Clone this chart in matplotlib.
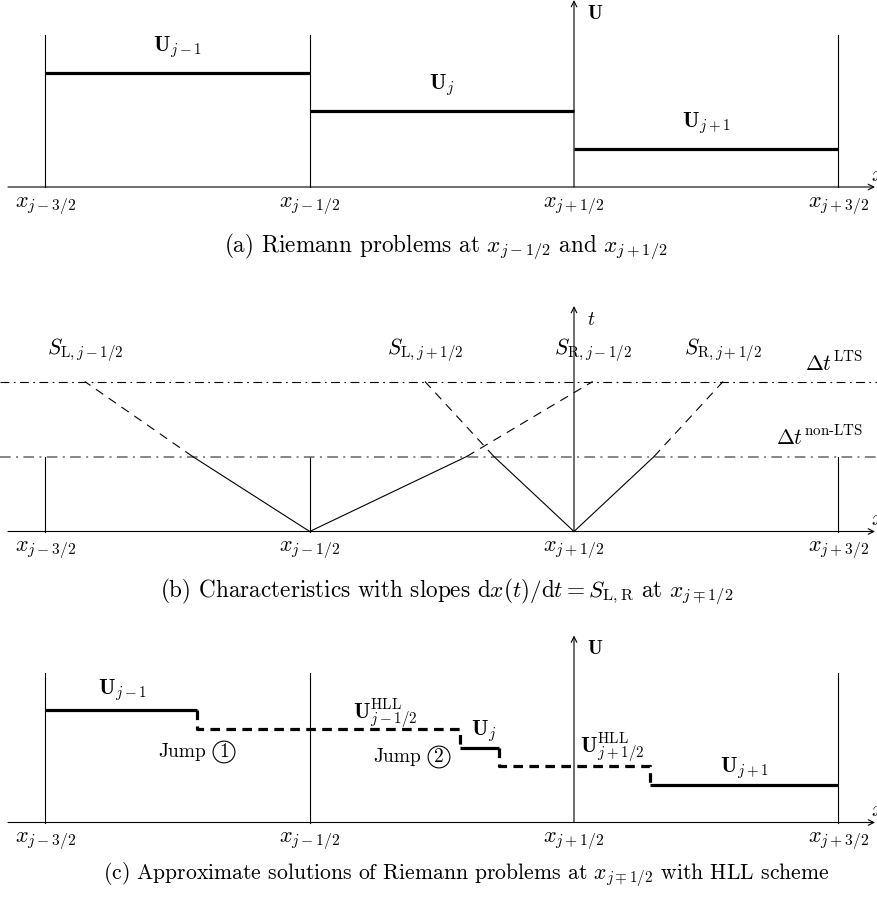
import numpy as np
import matplotlib
matplotlib.use('Agg')
import matplotlib.pyplot as plt

plt.rcParams['font.family'] = 'serif'
plt.rcParams['font.serif'] = ['cmr10', 'DejaVu Serif']
plt.rcParams['mathtext.fontset'] = 'cm'
plt.rcParams['axes.formatter.use_mathtext'] = True

# cell interfaces (x_{j+1/2} = 0, cell width = 1)
x_faces = [-2, -1, 0, 1]
face_labels = [r'$x_{j-3/2}$', r'$x_{j-1/2}$', r'$x_{j+1/2}$', r'$x_{j+3/2}$']

# (a) cell averages
cell_left = [-2, -1, 0]
cell_right = [-1, 0, 1]
cell_U = [3, 2, 1]
cell_labels = [r'$\mathbf{U}_{j-1}$', r'$\mathbf{U}_{j}$', r'$\mathbf{U}_{j+1}$']

# (b) characteristics, offsets at t = 1 (non-LTS) and t = 2 (LTS)
char_origin = [-1, -1, 0, 0]
char_dx_t1 = [-0.443, 0.594, -0.303, 0.303]
char_dx_t2 = [-0.851, 1.071, -0.564, 0.564]
char_labels = [r'$S_{\mathrm{L},j-1/2}$', r'$S_{\mathrm{R},j-1/2}$',
               r'$S_{\mathrm{L},j+1/2}$', r'$S_{\mathrm{R},j+1/2}$']
dt_levels = [2, 1]
dt_labels = [r'$\Delta t^{\mathrm{LTS}}$', r'$\Delta t^{\mathrm{non}\text{-}\mathrm{LTS}}$']

# (c) HLL states
jump_x = [-1.426, -0.431, -0.284, 0.288]
U_jm1, U_hll_m, U_j, U_hll_p, U_jp1 = 3, 2.5, 2, 1.5, 1

PXU = 264.3   # pixels per cell
X0 = 574      # pixel of x_{j+1/2}
W, H = 877, 900


def u(px):
    return (px - X0) / PXU


fig = plt.figure(figsize=(W / 100, H / 100), dpi=100)


def panel(base_px, unit_px):
    ax = fig.add_axes([0, 0, 1, 1])
    ax.set_xlim(u(0), u(W))
    ax.set_ylim(-(H - base_px) / unit_px, base_px / unit_px)
    ax.axis('off')
    return ax


def arrow(ax, x0, y0, x1, y1):
    ax.annotate('', xy=(x1, y1), xytext=(x0, y0),
                arrowprops=dict(arrowstyle='->', lw=0.8, color='k',
                                shrinkA=0, shrinkB=0, mutation_scale=10))


FS = 15.5     # labels in the drawing
FT = 16       # x tick labels
FC = 16.7     # captions


def axes_common(ax, unit_px, ytop, ylabel):
    arrow(ax, u(8), 0, u(875), 0)
    ax.text(u(871), 12 / unit_px, r'$x$', fontsize=FT, ha='left', va='center')
    arrow(ax, 0, 0, 0, ytop)
    ax.text(u(587), ytop - 5 / unit_px, ylabel, fontsize=14, ha='left', va='top')
    for xf, lab in zip(x_faces, face_labels):
        ax.text(xf, -19 / unit_px, lab, fontsize=FT, ha='center', va='center')


THIN = 0.8
THICK = 2.3

# ---------- (a) ----------
ua = 38.0
ax = panel(187, ua)
axes_common(ax, ua, 187 / ua, r'$\mathbf{U}$')
for xf in x_faces:
    if xf != 0:
        ax.plot([xf, xf], [0, 4], color='k', lw=THIN)
for l, r, v, lab in zip(cell_left, cell_right, cell_U, cell_labels):
    ax.plot([l, r], [v, v], color='k', lw=THICK, solid_capstyle='butt')
    ax.text((l + r) / 2, v + 0.68, lab, fontsize=FS, ha='center', va='center')
fig.text(446 / W, 1 - 247 / H,
         r'(a) Riemann problems at $x_{j-1/2}$ and $x_{j+1/2}$',
         fontsize=FC, ha='center', va='center')

# ---------- (b) ----------
ub = 75.0
ax = panel(531.5, ub)
axes_common(ax, ub, (531.5 - 306) / ub, r'$t$')
for xf in x_faces:
    if xf != 0:
        ax.plot([xf, xf], [0, 1], color='k', lw=THIN)
ax.plot([u(0), u(W)], [dt_levels[0]] * 2, color='k', lw=THIN,
        linestyle=(0, (8, 4, 1.5, 4)))
ax.plot([u(0), u(W)], [dt_levels[1]] * 2, color='0.4', lw=THIN + 0.3,
        linestyle=(0, (7, 3.5, 1.3, 3.5)))
ax.text(u(863), 2.25, dt_labels[0], fontsize=FS, ha='right', va='center')
ax.text(u(863), 1.26, dt_labels[1], fontsize=FS, ha='right', va='center')
for x0, d1, d2, lab in zip(char_origin, char_dx_t1, char_dx_t2, char_labels):
    ax.plot([x0, x0 + d1], [0, 1], color='k', lw=THIN)
    ax.plot([x0 + d1, x0 + d2], [1, 2], color='k', lw=THIN,
            linestyle=(0, (8, 6)))
    ax.text(x0 + d2, 2.42, lab, fontsize=FS, ha='center', va='center')
fig.text(447 / W, 1 - 592 / H,
         r'(b) Characteristics with slopes $\mathrm{d}x(t)/\mathrm{d}t = S_{\mathrm{L,R}}$ at $x_{j\mp1/2}$',
         fontsize=FC, ha='center', va='center')

# ---------- (c) ----------
uc = 37.5
ax = panel(822.5, uc)
axes_common(ax, uc, 187 / uc, r'$\mathbf{U}$')
for xf in x_faces:
    if xf != 0:
        ax.plot([xf, xf], [0, 4], color='k', lw=THIN)
solid = dict(color='k', lw=THICK, solid_capstyle='butt')
dashed = dict(color='k', lw=THICK, linestyle=(0, (3, 2)), dash_capstyle='butt')
ax.plot([x_faces[0], jump_x[0]], [U_jm1, U_jm1], **solid)
ax.plot([jump_x[1], jump_x[2]], [U_j, U_j], **solid)
ax.plot([jump_x[3], x_faces[3]], [U_jp1, U_jp1], **solid)
ax.plot([jump_x[0], jump_x[0], jump_x[1], jump_x[1]],
        [U_jm1, U_hll_m, U_hll_m, U_j], **dashed)
ax.plot([jump_x[2], jump_x[2], jump_x[3], jump_x[3]],
        [U_j, U_hll_p, U_hll_p, U_jp1], **dashed)

ax.text(u(122), (822.5 - 690) / uc, r'$\mathbf{U}_{j-1}$', fontsize=FS, ha='center', va='center')
ax.text(u(385), (822.5 - 713) / uc, r'$\mathbf{U}_{j-1/2}^{\mathrm{HLL}}$', fontsize=FS, ha='center', va='center')
ax.text(u(484), (822.5 - 731) / uc, r'$\mathbf{U}_{j}$', fontsize=FS, ha='center', va='center')
ax.text(u(612), (822.5 - 747) / uc, r'$\mathbf{U}_{j+1/2}^{\mathrm{HLL}}$', fontsize=FS, ha='center', va='center')
ax.text(u(744), (822.5 - 768) / uc, r'$\mathbf{U}_{j+1}$', fontsize=FS, ha='center', va='center')

jump_text = [(206, 224, 752, '1'), (421, 439, 757, '2')]
for xr, xc, yp, num in jump_text:
    ax.text(u(xr), (822.5 - yp) / uc, 'Jump', fontsize=14, ha='right', va='center')
    ax.text(u(xc), (822.5 - yp) / uc, num, fontsize=14, ha='center', va='center',
            bbox=dict(boxstyle='circle,pad=0.1', fc='none', ec='k', lw=0.8))

fig.text(466 / W, 1 - 875 / H,
         r'(c) Approximate solutions of Riemann problems at $x_{j\mp1/2}$ with HLL scheme',
         fontsize=15.6, ha='center', va='center')

fig.savefig('out.png', dpi=100)
